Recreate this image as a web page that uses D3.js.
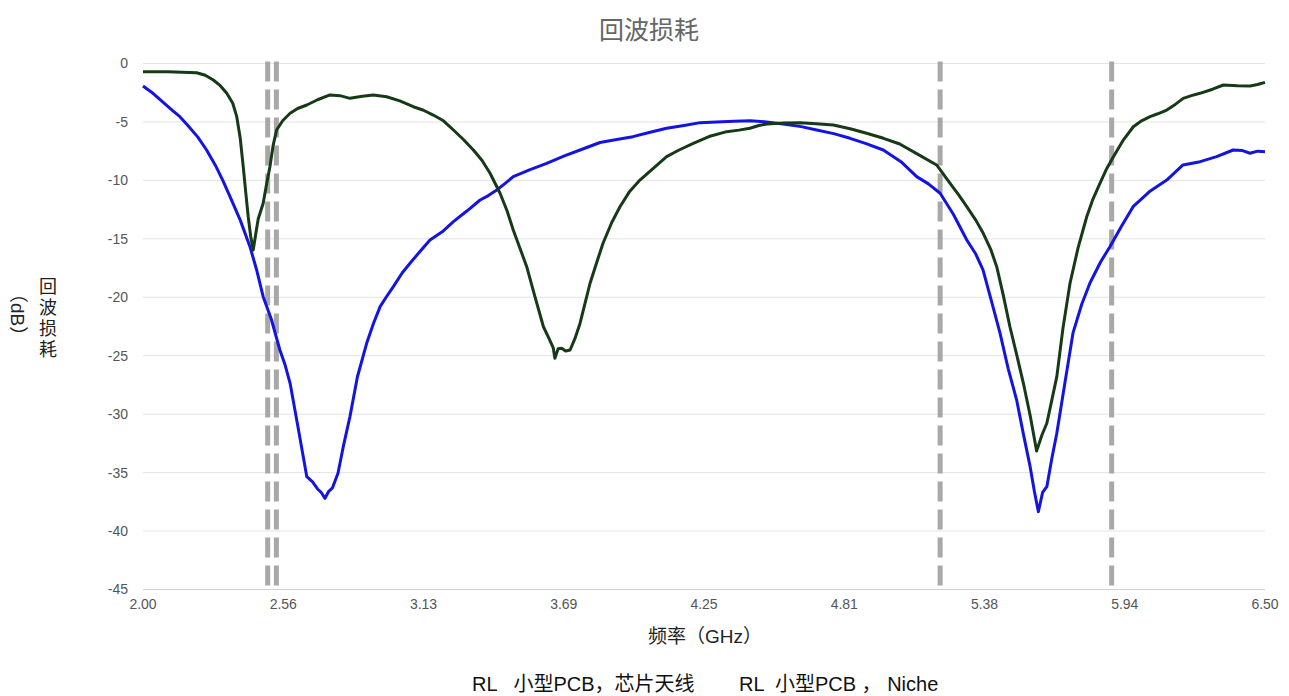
<!DOCTYPE html>
<html><head><meta charset="utf-8">
<script src="https://cdn.jsdelivr.net/npm/d3@7"></script>
<style>body{margin:0;background:#fff}svg{display:block}</style>
</head><body>
<svg id="c" width="1289" height="696"></svg>
<script>
const title = "回波损耗";
const xTitle = "频率（GHz）";
const yTitleMain = "回波损耗";
const yTitleUnit = "（dB）";
const seriesNames = ["RL   小型PCB，芯片天线", "RL  小型PCB ， Niche"];
const xTicks = [2.00, 2.5625, 3.125, 3.6875, 4.25, 4.8125, 5.375, 5.9375, 6.50];
const xTickLabels = ["2.00","2.56","3.13","3.69","4.25","4.81","5.38","5.94","6.50"];
const yTicks = [0,-5,-10,-15,-20,-25,-30,-35,-40,-45];
const bandLines = [2.50, 2.535, 5.197, 5.885];

// Blue series: [GHz, dB]
const blueFreq = [2.000,2.040,2.080,2.120,2.148,2.180,2.220,2.255,2.290,2.320,2.349,2.390,2.429,2.455,2.482,2.515,2.549,2.570,2.590,2.620,2.657,2.680,2.700,2.715,2.730,2.745,2.760,2.782,2.805,2.830,2.860,2.897,2.925,2.951,2.975,3.004,3.040,3.071,3.110,3.151,3.200,3.245,3.300,3.352,3.385,3.419,3.450,3.485,3.550,3.619,3.690,3.753,3.833,3.900,3.965,4.030,4.100,4.170,4.235,4.300,4.370,4.436,4.500,4.567,4.640,4.702,4.770,4.836,4.900,4.969,5.040,5.103,5.150,5.197,5.250,5.304,5.340,5.369,5.400,5.437,5.470,5.504,5.530,5.558,5.575,5.591,5.608,5.625,5.645,5.665,5.700,5.730,5.765,5.798,5.840,5.878,5.925,5.971,6.040,6.106,6.140,6.171,6.240,6.306,6.372,6.410,6.440,6.470,6.500];
const blueDb   = [-1.92,-2.55,-3.30,-4.05,-4.55,-5.30,-6.30,-7.40,-8.70,-10.00,-11.39,-13.40,-15.67,-17.60,-19.95,-21.90,-24.51,-25.80,-27.36,-30.90,-35.35,-35.80,-36.40,-36.70,-37.20,-36.60,-36.30,-35.06,-32.60,-30.21,-26.80,-23.94,-22.20,-20.80,-20.00,-19.09,-17.90,-17.09,-16.10,-15.10,-14.40,-13.53,-12.60,-11.68,-11.30,-10.82,-10.30,-9.68,-9.10,-8.54,-7.90,-7.40,-6.76,-6.50,-6.26,-5.90,-5.54,-5.30,-5.06,-5.00,-4.95,-4.89,-5.00,-5.18,-5.40,-5.69,-6.00,-6.40,-6.85,-7.40,-8.40,-9.68,-10.30,-11.10,-12.90,-15.10,-16.30,-17.66,-20.10,-23.05,-26.10,-28.79,-31.60,-34.49,-36.60,-38.34,-36.70,-36.20,-33.80,-31.63,-27.00,-23.05,-20.60,-18.78,-17.00,-15.67,-13.90,-12.25,-10.90,-9.97,-9.30,-8.68,-8.40,-7.97,-7.40,-7.45,-7.68,-7.50,-7.54];

// Green series: [GHz, dB]
const greenFreq = [2.000,2.100,2.215,2.250,2.282,2.310,2.336,2.360,2.376,2.390,2.402,2.412,2.422,2.432,2.442,2.452,2.462,2.482,2.495,2.509,2.522,2.536,2.560,2.590,2.620,2.657,2.700,2.750,2.790,2.830,2.880,2.924,2.977,3.030,3.084,3.125,3.164,3.205,3.245,3.285,3.325,3.360,3.392,3.432,3.460,3.485,3.510,3.539,3.570,3.606,3.630,3.645,3.652,3.665,3.679,3.695,3.713,3.733,3.753,3.773,3.793,3.820,3.845,3.880,3.913,3.950,3.993,4.050,4.100,4.150,4.207,4.270,4.341,4.390,4.434,4.470,4.502,4.570,4.637,4.700,4.769,4.840,4.902,4.970,5.035,5.110,5.183,5.237,5.270,5.304,5.340,5.370,5.400,5.424,5.450,5.477,5.505,5.531,5.558,5.584,5.605,5.625,5.645,5.665,5.690,5.718,5.750,5.785,5.810,5.838,5.865,5.892,5.930,5.972,6.005,6.039,6.070,6.106,6.140,6.172,6.205,6.239,6.290,6.333,6.390,6.440,6.470,6.500];
const greenDb   = [-0.70,-0.70,-0.79,-1.00,-1.41,-1.90,-2.55,-3.40,-4.55,-6.40,-8.83,-11.00,-13.11,-14.80,-15.95,-14.60,-13.30,-11.96,-10.40,-8.83,-7.00,-5.69,-4.90,-4.26,-3.85,-3.55,-3.10,-2.69,-2.75,-2.98,-2.80,-2.69,-2.84,-3.20,-3.70,-4.00,-4.41,-4.90,-5.69,-6.50,-7.40,-8.30,-9.39,-11.10,-12.60,-14.24,-15.70,-17.38,-19.80,-22.52,-23.60,-24.30,-25.22,-24.40,-24.36,-24.60,-24.51,-23.50,-22.22,-20.50,-18.80,-17.00,-15.38,-13.60,-12.25,-11.00,-9.97,-8.90,-7.97,-7.40,-6.83,-6.25,-5.83,-5.70,-5.54,-5.30,-5.18,-5.10,-5.06,-5.15,-5.26,-5.60,-5.97,-6.40,-6.89,-7.80,-8.68,-10.25,-11.20,-12.25,-13.40,-14.53,-15.90,-17.38,-19.80,-22.52,-25.00,-27.36,-30.10,-33.15,-31.80,-30.78,-28.80,-26.79,-22.60,-18.80,-15.80,-13.11,-11.60,-10.25,-9.00,-7.97,-6.60,-5.41,-4.90,-4.55,-4.30,-3.98,-3.50,-2.98,-2.75,-2.55,-2.20,-1.84,-1.90,-1.92,-1.80,-1.61];

const LATIN = "Liberation Sans, Arial, Noto Sans CJK SC, sans-serif";
const CJK = "Noto Sans CJK SC, sans-serif";

const svg = d3.select("#c");
const x = d3.scaleLinear().domain([2.0, 6.5]).range([143, 1265]);
const y = d3.scaleLinear().domain([0, -45]).range([63.5, 589.5]);

// grid lines (horizontal)
svg.append("g").selectAll("line").data(yTicks).join("line")
  .attr("x1", x(2.0)).attr("x2", x(6.5))
  .attr("y1", d => y(d)).attr("y2", d => y(d))
  .attr("stroke", d => d === -45 ? "#cfcfcf" : "#e3e3e3").attr("stroke-width", 1);

// y tick labels
svg.append("g").selectAll("text").data(yTicks).join("text")
  .attr("x", 128).attr("y", d => y(d)).attr("dy", "0.35em")
  .attr("text-anchor", "end")
  .attr("font-family", LATIN).attr("font-size", 14)
  .attr("fill", "#555").text(d => d);

// x tick labels
svg.append("g").selectAll("text").data(xTicks).join("text")
  .attr("x", d => x(d)).attr("y", 604).attr("dy", "0.35em")
  .attr("text-anchor", "middle")
  .attr("font-family", LATIN).attr("font-size", 14)
  .attr("fill", "#555").text((d, i) => xTickLabels[i]);

// band dashed lines
svg.append("g").selectAll("line").data(bandLines).join("line")
  .attr("x1", d => x(d)).attr("x2", d => x(d))
  .attr("y1", y(0) - 2).attr("y2", y(-45))
  .attr("stroke", "#a8a8a8").attr("stroke-width", 5)
  .attr("stroke-dasharray", "20,8");

const line = d3.line().x(d => x(d[0])).y(d => y(d[1])).curve(d3.curveLinear);
const blue = blueFreq.map((f, i) => [f, blueDb[i]]);
const green = greenFreq.map((f, i) => [f, greenDb[i]]);

svg.append("path").datum(blue).attr("d", line)
  .attr("fill", "none").attr("stroke", "#1414e0").attr("stroke-width", 3)
  .attr("stroke-linejoin", "round");
svg.append("path").datum(green).attr("d", line)
  .attr("fill", "none").attr("stroke", "#163a16").attr("stroke-width", 3)
  .attr("stroke-linejoin", "round");

// title
svg.append("text").attr("x", 649).attr("y", 30).attr("dy", "0.35em")
  .attr("text-anchor", "middle")
  .attr("font-family", CJK).attr("font-size", 25)
  .attr("fill", "#666").text(title);

// x title
svg.append("text").attr("x", 705).attr("y", 636).attr("dy", "0.35em")
  .attr("text-anchor", "middle")
  .attr("font-family", LATIN).attr("font-size", 19)
  .attr("fill", "#222").text(xTitle);

// y title: vertical CJK column + rotated unit
svg.append("text")
  .attr("x", 48).attr("y", 277)
  .style("writing-mode", "vertical-rl")
  .attr("font-family", CJK).attr("font-size", 18)
  .attr("letter-spacing", 3)
  .attr("fill", "#222").text(yTitleMain);
svg.append("text")
  .attr("transform", "translate(18,284) rotate(90)")
  .attr("dy", "0.35em").attr("text-anchor", "start")
  .attr("font-family", LATIN).attr("font-size", 19)
  .attr("fill", "#222").text(yTitleUnit);

// legend (text only)
const legendX = [472, 739];
svg.append("g").selectAll("text").data(seriesNames).join("text")
  .attr("x", (d, i) => legendX[i]).attr("y", 684).attr("dy", "0.35em")
  .attr("font-family", LATIN).attr("font-size", 20)
  .attr("fill", "#111").style("white-space", "pre")
  .text(d => d);
</script>
</body></html>
